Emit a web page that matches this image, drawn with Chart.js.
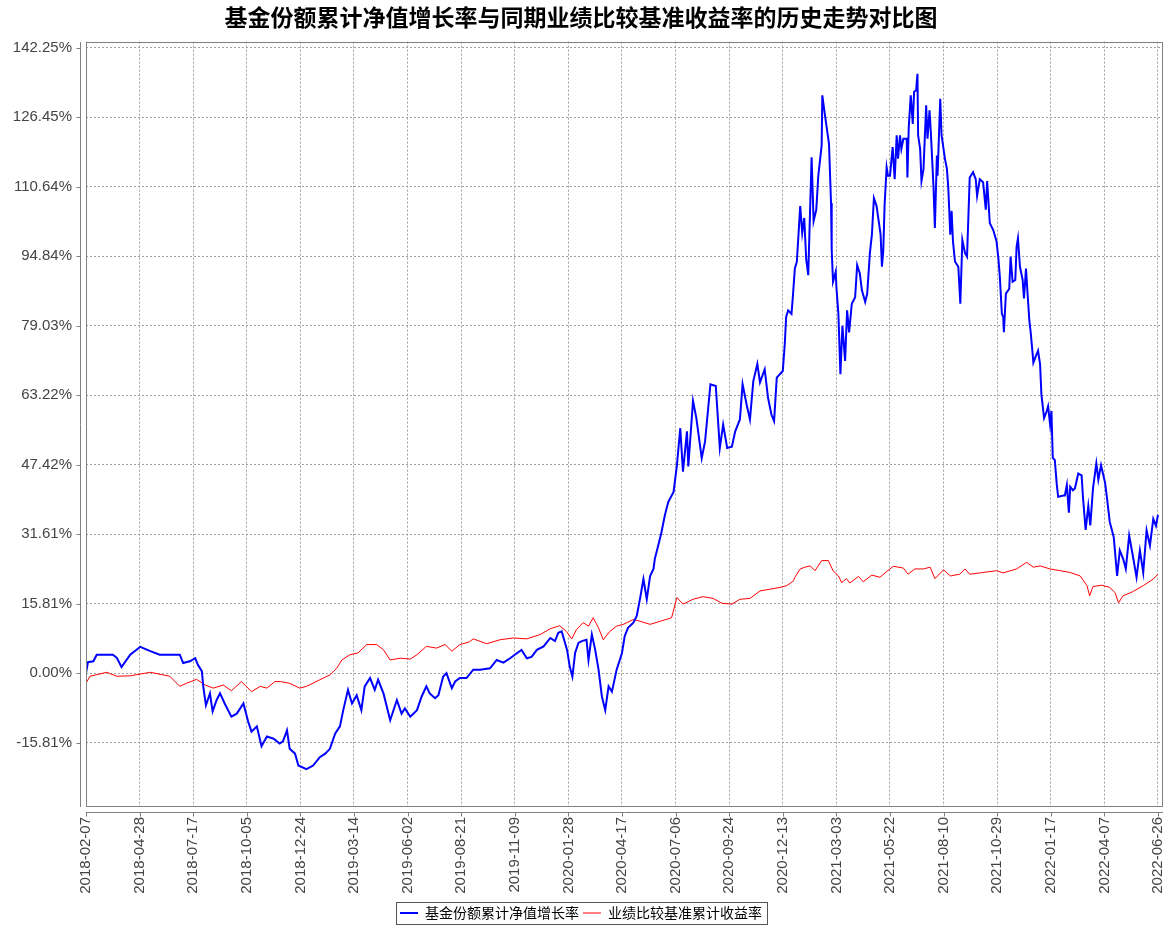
<!DOCTYPE html>
<html>
<head>
<meta charset="utf-8">
<title>基金份额累计净值增长率与同期业绩比较基准收益率的历史走势对比图</title>
<script src="https://cdn.jsdelivr.net/npm/chart.js@4.4.1/dist/chart.umd.min.js"></script>
<style>
  html, body { margin: 0; padding: 0; background: #fff; }
  #wrap { width: 1171px; height: 926px; }
</style>
</head>
<body>
<div id="wrap"><canvas id="chart" width="1171" height="926"></canvas></div>
<script>
// Tick labels
const xTickLabels = ['2018-02-07', '2018-04-28', '2018-07-17', '2018-10-05', '2018-12-24',
  '2019-03-14', '2019-06-02', '2019-08-21', '2019-11-09', '2020-01-28', '2020-04-17',
  '2020-07-06', '2020-09-24', '2020-12-13', '2021-03-03', '2021-05-22', '2021-08-10',
  '2021-10-29', '2022-01-17', '2022-04-07', '2022-06-26'];
const yTickValues = [-15.806, 0, 15.806, 31.612, 47.418, 63.224, 79.03, 94.836, 110.642, 126.448, 142.254];
const yTickLabels = ['-15.81%', '0.00%', '15.81%', '31.61%', '47.42%', '63.22%', '79.03%', '94.84%', '110.64%', '126.45%', '142.25%'];

// Series (x = days since 2018-02-07, y = %)
const fundDays = [
  0, 3, 11, 16, 40, 46, 53, 66, 81, 96,
  110, 140, 145, 155, 163, 167, 173, 175, 179, 185,
  189, 195, 200, 207, 217, 225, 235, 242, 247, 255,
  262, 270, 280, 289, 294, 300, 304, 312, 317, 329,
  339, 349, 357, 364, 372, 379, 384, 391, 397, 404,
  411, 416, 424, 431, 436, 444, 454, 464, 471, 476,
  484, 494, 501, 508, 513, 521, 526, 533, 538, 546,
  551, 558, 568, 578, 588, 603, 613, 623, 633, 640,
  650, 658, 665, 673, 683, 693, 700, 705, 710, 718,
  722, 726, 730, 735, 740, 747, 750, 755, 760, 765,
  770, 775, 780, 785, 792, 800, 804, 809, 817, 822,
  827, 832, 837, 842, 847, 849, 854, 859, 864, 869,
  877, 882, 887, 891, 897, 899, 906, 911, 919, 924,
  932, 940, 946, 951, 957, 964, 969, 976, 980, 986,
  991, 996, 1002, 1006, 1013, 1018, 1023, 1027, 1031, 1040,
  1043, 1045, 1048, 1053, 1055, 1058, 1061, 1066, 1069, 1072,
  1075, 1078, 1083, 1086, 1090, 1093, 1098, 1099, 1103, 1109,
  1112, 1113, 1115, 1119, 1120, 1123, 1126, 1129, 1133, 1136,
  1139, 1143, 1148, 1151, 1155, 1158, 1163, 1166, 1170, 1173,
  1176, 1180, 1186, 1188, 1190, 1192, 1195, 1197, 1200, 1204,
  1207, 1210, 1212, 1215, 1217, 1220, 1225, 1226, 1228, 1231,
  1234, 1236, 1239, 1241, 1242, 1245, 1247, 1250, 1254, 1256,
  1259, 1261, 1265, 1267, 1270, 1271, 1275, 1277, 1282, 1285,
  1287, 1290, 1292, 1294, 1297, 1302, 1305, 1308, 1312, 1315,
  1319, 1324, 1328, 1330, 1334, 1339, 1343, 1345, 1349, 1354,
  1359, 1362, 1364, 1367, 1369, 1370, 1373, 1378, 1380, 1383,
  1387, 1389, 1391, 1394, 1398, 1400, 1403, 1405, 1408, 1410,
  1413, 1414, 1418, 1421, 1424, 1426, 1430, 1434, 1436, 1439,
  1441, 1443, 1446, 1449, 1451, 1459, 1461, 1464, 1467, 1469,
  1473, 1476, 1481, 1486, 1488, 1492, 1496, 1499, 1503, 1508,
  1511, 1515, 1521, 1524, 1528, 1534, 1539, 1543, 1548, 1552,
  1557, 1562, 1568, 1573, 1578, 1583, 1588, 1593, 1597, 1600
];
const fundValues = [
  0.0, 2.5, 2.7, 4.2, 4.2, 3.5, 1.4, 4.2, 6.0, 5.0,
  4.2, 4.2, 2.3, 2.7, 3.4, 1.9, 0.4, -3.0, -7.3, -4.6,
  -8.7, -6.1, -4.6, -6.9, -9.9, -9.2, -6.9, -11.0, -13.3, -12.1,
  -16.6, -14.4, -14.9, -16.0, -15.5, -13.0, -17.2, -18.3, -21.0, -21.8,
  -21.0, -19.1, -18.3, -17.2, -13.7, -12.1, -8.4, -3.8, -6.9, -5.0,
  -8.4, -3.0, -1.1, -3.8, -1.5, -4.6, -10.7, -6.1, -9.2, -8.0,
  -9.9, -8.4, -5.3, -3.0, -4.6, -5.7, -5.0, -0.8, 0.0, -3.4,
  -1.9, -1.1, -1.1, 0.8, 0.8, 1.1, 3.0, 2.4, 3.4, 4.2,
  5.3, 3.4, 3.7, 5.3, 6.1, 8.0, 7.3, 9.2, 9.5, 5.3,
  1.5, -0.8, 4.6, 6.9, 7.3, 7.6, 3.0, 8.8, 5.3, 0.8,
  -5.3, -8.4, -3.0, -4.2, 0.8, 4.6, 8.4, 10.3, 11.5, 13.0,
  17.0, 21.4, 16.8, 22.1, 23.7, 26.0, 29.0, 32.1, 35.9, 38.9,
  41.2, 47.3, 55.7, 45.8, 55.0, 47.0, 61.9, 58.0, 48.9, 52.7,
  65.7, 65.3, 51.2, 56.5, 51.2, 51.5, 55.0, 57.7, 65.7, 61.1,
  57.7, 66.4, 70.3, 66.1, 69.1, 62.6, 58.8, 57.3, 67.2, 68.7,
  74.9, 81.0, 82.5, 81.7, 85.5, 92.0, 93.6, 106.2, 100.1, 103.5,
  94.0, 90.5, 117.3, 102.8, 105.4, 113.1, 120.0, 131.4, 126.8, 120.3,
  106.9, 96.2, 89.0, 91.3, 87.8, 81.7, 68.0, 79.0, 71.0, 82.5,
  77.5, 84.0, 85.5, 92.8, 90.9, 87.1, 84.4, 86.3, 95.5, 99.7,
  108.0, 106.2, 99.7, 92.4, 96.2, 106.6, 115.0, 113.1, 113.1, 119.6,
  112.3, 122.3, 117.0, 122.3, 119.2, 121.5, 121.5, 112.7, 124.1, 131.4,
  124.9, 132.2, 132.5, 136.3, 122.3, 119.2, 111.9, 114.6, 129.1, 121.5,
  128.0, 122.9, 110.4, 101.2, 117.7, 113.1, 130.6, 122.3, 117.0, 114.6,
  110.4, 99.7, 105.1, 98.2, 93.6, 92.4, 84.0, 98.5, 95.5, 94.7,
  112.7, 113.9, 112.3, 108.5, 112.3, 111.6, 105.4, 111.9, 102.3, 100.8,
  98.2, 94.0, 90.0, 81.7, 81.0, 77.5, 86.3, 87.4, 94.7, 89.0,
  89.4, 97.0, 98.9, 92.4, 89.4, 85.2, 92.0, 87.1, 80.2, 77.5,
  72.5, 70.6, 72.2, 73.3, 70.3, 63.4, 58.0, 59.6, 60.7, 56.5,
  59.6, 48.9, 48.5, 42.8, 40.1, 40.4, 40.4, 42.8, 36.5, 42.4,
  41.6, 42.0, 45.4, 45.0, 40.1, 32.6, 38.0, 33.6, 42.0, 47.7,
  44.0, 47.3, 43.3, 39.7, 34.4, 30.9, 22.1, 27.9, 26.0, 23.7,
  31.3, 27.1, 21.8, 27.9, 22.9, 32.5, 29.0, 35.1, 33.5, 36.0
];
const benchDays = [
  0, 6, 31, 46, 66, 96, 125, 140, 150, 165,
  178, 190, 205, 217, 232, 247, 260, 270, 282, 290,
  304, 319, 329, 349, 364, 374, 382, 394, 406, 419,
  434, 444, 454, 469, 484, 494, 508, 523, 536, 546,
  558, 572, 578, 598, 618, 638, 658, 678, 693, 707,
  717, 725, 732, 742, 750, 757, 765, 772, 782, 792,
  802, 817, 827, 842, 857, 874, 882, 891, 906, 921,
  936, 949, 964, 976, 991, 1006, 1021, 1036, 1046, 1056,
  1058, 1066, 1073, 1081, 1088, 1098, 1108, 1115, 1123, 1128,
  1135, 1140, 1153, 1160, 1173, 1185, 1195, 1205, 1220, 1227,
  1237, 1250, 1260, 1267, 1280, 1290, 1304, 1312, 1319, 1339,
  1359, 1369, 1389, 1404, 1414, 1424, 1439, 1454, 1469, 1484,
  1494, 1498, 1503, 1516, 1528, 1536, 1541, 1548, 1562, 1578,
  1593, 1600
];
const benchValues = [
  -2.3, -0.7, 0.2, -0.7, -0.6, 0.2, -0.7, -3.0, -2.3, -1.4,
  -2.7, -3.4, -2.7, -4.0, -1.9, -4.2, -3.0, -3.4, -1.9, -1.9,
  -2.3, -3.4, -3.0, -1.5, -0.4, 1.1, 3.0, 4.2, 4.6, 6.5,
  6.5, 5.3, 3.0, 3.4, 3.2, 4.2, 6.1, 5.7, 6.5, 5.0,
  6.5, 7.1, 7.8, 6.7, 7.6, 8.0, 7.8, 8.8, 10.1, 10.8,
  9.5, 7.8, 9.9, 11.5, 10.7, 12.6, 10.3, 7.6, 9.5, 10.7,
  11.1, 12.2, 11.8, 11.1, 11.8, 12.6, 17.2, 15.7, 16.8, 17.4,
  17.0, 15.9, 15.7, 16.8, 17.0, 18.7, 19.1, 19.5, 19.9, 21.0,
  21.8, 23.7, 24.1, 24.4, 23.3, 25.6, 25.6, 23.3, 22.1, 20.6,
  21.5, 20.5, 22.0, 20.8, 22.3, 21.8, 23.1, 24.3, 23.9, 22.5,
  23.7, 23.7, 24.1, 21.5, 23.5, 22.1, 22.5, 23.7, 22.5, 22.9,
  23.3, 22.8, 23.7, 25.2, 24.1, 24.4, 23.7, 23.3, 22.9, 22.1,
  19.9, 17.6, 19.7, 20.0, 19.5, 18.3, 16.0, 17.6, 18.5, 19.9,
  21.4, 22.5
];

const DAY = 86400000;
const startTime = Date.parse(xTickLabels[0]);
const xTickDays = xTickLabels.map(d => Math.round((Date.parse(d) - startTime) / DAY));

const labelFont = { family: '"Liberation Sans", Arial, sans-serif', size: 15 };
const cjkFont = '"Noto Sans CJK SC", sans-serif';

// plot frame, offset axis lines and the legend box
const framePlugin = {
  id: 'frame',
  afterDraw(chart) {
    const { ctx, chartArea: a, scales } = chart;
    const left = Math.round(a.left), right = Math.round(a.right);
    const top = Math.round(a.top), bottom = Math.round(a.bottom);
    ctx.save();
    ctx.lineWidth = 1;
    ctx.strokeStyle = '#808080';
    ctx.strokeRect(left + 0.5, top + 0.5, right - left, bottom - top);

    ctx.beginPath();
    const ax = left - 5.5;
    ctx.moveTo(ax, top); ctx.lineTo(ax, bottom + 1);
    scales.y.ticks.forEach(t => {
      const y = Math.round(scales.y.getPixelForValue(t.value)) + 0.5;
      ctx.moveTo(ax - 4, y); ctx.lineTo(ax, y);
    });
    const ay = bottom + 6.5;
    ctx.moveTo(left, ay); ctx.lineTo(right + 1, ay);
    scales.x.ticks.forEach(t => {
      const x = Math.round(scales.x.getPixelForValue(t.value)) + 0.5;
      ctx.moveTo(x, ay); ctx.lineTo(x, ay + 4);
    });
    ctx.stroke();

    const boxes = chart.legend.legendHitBoxes;
    if (boxes && boxes.length) {
      const l = Math.min(...boxes.map(b => b.left)) - 4;
      const r = Math.max(...boxes.map(b => b.left + b.width)) + 5;
      const t = boxes[0].top - 4;
      const h = boxes[0].height + 8;
      ctx.strokeStyle = '#555555';
      ctx.strokeRect(Math.round(l) + 0.5, Math.round(t) + 0.5, Math.round(r - l), Math.round(h));
    }
    ctx.restore();
  }
};

new Chart(document.getElementById('chart'), {
  type: 'line',
  data: {
    datasets: [{
      label: '基金份额累计净值增长率',
      data: fundDays.map((d, i) => ({ x: d, y: fundValues[i] })),
      borderColor: '#0000ff',
      backgroundColor: '#0000ff',
      borderWidth: 2,
      pointRadius: 0,
      tension: 0,
      fill: false
    }, {
      label: '业绩比较基准累计收益率',
      data: benchDays.map((d, i) => ({ x: d, y: benchValues[i] })),
      borderColor: '#ff0000',
      backgroundColor: '#ff0000',
      borderWidth: 1,
      pointRadius: 0,
      tension: 0,
      fill: false
    }]
  },
  options: {
    responsive: false,
    animation: false,
    layout: { padding: { left: 0, right: 9, top: 0, bottom: -4 } },
    plugins: {
      tooltip: { enabled: false },
      title: {
        display: true,
        text: '基金份额累计净值增长率与同期业绩比较基准收益率的历史走势对比图',
        color: '#000000',
        font: { family: cjkFont, size: 23, weight: 'bold' },
        padding: { top: 3, bottom: 11 }
      },
      legend: {
        position: 'bottom',
        labels: {
          color: '#000000',
          font: { family: cjkFont, size: 14 },
          usePointStyle: true,
          pointStyle: 'line',
          pointStyleWidth: 18,
          padding: 4
        }
      }
    },
    scales: {
      x: {
        type: 'linear',
        min: 0,
        max: 1606,
        afterFit: s => { s.height = 96; s.paddingLeft = 0; s.paddingRight = 0; },
        afterBuildTicks: s => { s.ticks = xTickDays.map(v => ({ value: v })); },
        grid: { color: '#a0a0a0', lineWidth: 1, drawTicks: false },
        border: { display: false, dash: [2, 2] },
        ticks: {
          autoSkip: false,
          minRotation: 90,
          maxRotation: 90,
          padding: 11,
          color: '#444444',
          font: labelFont,
          callback: (v, i) => xTickLabels[i]
        }
      },
      y: {
        min: -30.2,
        max: 143.6,
        afterFit: s => { s.width = 86; },
        afterBuildTicks: s => { s.ticks = yTickValues.map(v => ({ value: v })); },
        grid: { color: '#a0a0a0', lineWidth: 1, drawTicks: false },
        border: { display: false, dash: [2, 2] },
        ticks: {
          padding: 14,
          color: '#444444',
          font: labelFont,
          callback: (v, i) => yTickLabels[i]
        }
      }
    }
  },
  plugins: [framePlugin]
});
</script>
</body>
</html>
